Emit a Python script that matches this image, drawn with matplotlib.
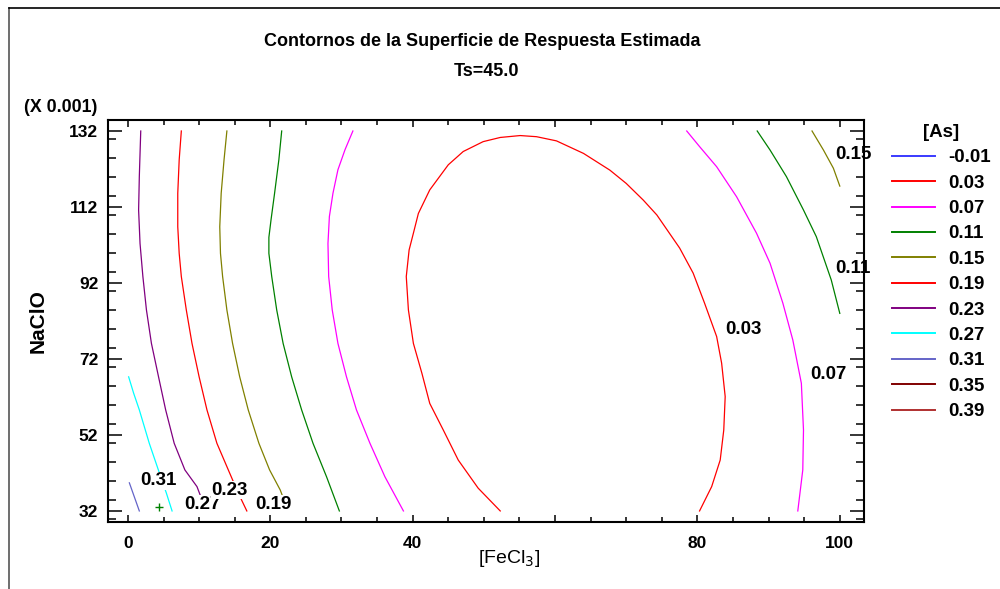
import matplotlib
matplotlib.use("Agg")
import matplotlib.pyplot as plt
from matplotlib import font_manager
from matplotlib.lines import Line2D
from matplotlib.ticker import MultipleLocator, FixedLocator

# fonts: Statgraphics uses Arial Narrow bold, fall back to Liberation Sans
names = {f.name for f in font_manager.fontManager.ttflist}
narrow = 'Liberation Sans Narrow' if 'Liberation Sans Narrow' in names else 'Liberation Sans'
plt.rcParams['font.family'] = ['Liberation Sans', 'DejaVu Sans']

# --- data ---
levels = [-0.01, 0.03, 0.07, 0.11, 0.15, 0.19, 0.23, 0.27, 0.31, 0.35, 0.39]
level_colors = ['#3a3aff', '#ff0000', '#ff00ff', '#008000', '#808000', '#ff0000',
                '#800080', '#00ffff', '#6464c8', '#800000', '#b03030']

c031_x = [0.2, 1.6]
c031_y = [39.4, 32.0]

c027_x = [0.1, 0.8, 1.6, 2.3, 3.0, 3.8, 4.6, 5.4, 6.2]
c027_y = [67.3, 63.0, 58.6, 54.2, 49.8, 45.4, 41.0, 36.7, 32.0]

c023_x = [1.8, 1.6, 1.5, 1.7, 2.1, 2.6, 3.3, 4.3, 5.3, 6.5, 8.0, 9.7, 11.0]
c023_y = [132.0, 120.0, 111.2, 102.4, 93.7, 84.9, 76.1, 67.3, 58.6, 49.8, 42.8, 38.4, 32.0]

c019_x = [7.5, 7.2, 7.0, 7.0, 7.2, 7.5, 8.2, 9.0, 10.0, 11.1, 12.5, 14.1, 15.5, 16.7]
c019_y = [132.0, 124.4, 115.6, 106.8, 99.8, 93.7, 84.9, 76.1, 67.3, 58.6, 49.8, 42.8, 36.7, 32.0]

c015_x = [13.9, 13.5, 13.1, 12.9, 13.0, 13.3, 13.9, 14.7, 15.7, 16.9, 18.4, 19.9, 21.4, 22.5]
c015_y = [132.0, 124.4, 115.6, 106.8, 99.8, 93.7, 84.9, 76.1, 67.3, 58.6, 49.8, 42.8, 37.5, 32.0]

c015r_x = [96.1, 97.7, 99.1, 100.0]
c015r_y = [132.0, 127.0, 122.2, 117.5]

c011_x = [21.6, 21.2, 20.6, 20.1, 19.8, 19.8, 20.2, 20.9, 21.8, 23.0, 24.4, 26.0, 27.9, 29.7]
c011_y = [132.0, 124.4, 115.6, 108.6, 104.0, 99.8, 93.7, 84.9, 76.1, 67.3, 58.6, 49.8, 41.0, 32.0]

c011r_x = [88.4, 90.2, 92.5, 94.9, 96.7, 98.8, 100.0]
c011r_y = [132.0, 127.0, 120.0, 111.2, 104.2, 92.8, 84.0]

c007_x = [31.6, 30.5, 29.5, 28.8, 28.3, 28.1, 28.2, 28.7, 29.5, 30.7, 32.1, 34.0, 36.1, 38.7]
c007_y = [132.0, 127.1, 121.8, 115.6, 109.5, 102.4, 93.7, 84.9, 76.1, 67.3, 58.6, 49.8, 41.0, 32.0]

c007r_x = [78.5, 80.3, 82.7, 85.5, 88.3, 90.2, 92.0, 93.4, 94.6, 94.9, 94.8, 94.1]
c007r_y = [132.0, 127.9, 122.6, 114.7, 105.1, 97.2, 86.7, 77.0, 65.6, 53.3, 42.8, 32.0]

c003_x = [52.3, 49.2, 46.4, 44.3, 42.4, 41.3, 40.1, 39.4, 39.1, 39.5, 40.1, 40.8, 42.4,
          45.0, 47.1, 49.9, 52.3, 55.1, 57.4, 60.2, 64.0, 67.7, 70.0, 72.4, 74.3, 77.5,
          79.4, 81.0, 82.7, 83.4, 83.9, 83.7, 83.2, 82.0, 80.3]
c003_y = [32.0, 38.0, 45.4, 53.3, 60.3, 68.2, 76.1, 84.9, 93.7, 100.7, 105.1, 110.3, 116.5,
          123.1, 126.6, 129.2, 130.3, 130.8, 130.5, 129.4, 126.1, 121.7, 118.2, 113.8, 109.9, 101.2,
          94.6, 86.7, 77.9, 70.9, 62.1, 53.3, 45.4, 38.4, 32.0]

# which polylines belong to which level
contours = {
    0.03: [(c003_x, c003_y)],
    0.07: [(c007_x, c007_y), (c007r_x, c007r_y)],
    0.11: [(c011_x, c011_y), (c011r_x, c011r_y)],
    0.15: [(c015_x, c015_y), (c015r_x, c015r_y)],
    0.19: [(c019_x, c019_y)],
    0.23: [(c023_x, c023_y)],
    0.27: [(c027_x, c027_y)],
    0.31: [(c031_x, c031_y)],
}

label_text = ['0.31', '0.27', '0.23', '0.19', '0.03', '0.07', '0.11', '0.15']
label_x = [4.3, 10.4, 14.3, 20.4, 86.4, 98.4, 101.9, 101.9]
label_y = [39.9, 33.8, 37.5, 33.8, 79.8, 67.8, 95.9, 125.7]

design_x = [4.3]
design_y = [33.1]

x_ticks = [0, 20, 40, 60, 80, 100]
x_ticklabels = ['0', '20', '40', '', '80', '100']
y_ticks = [32, 52, 72, 92, 112, 132]

# sizes depend on whether the narrow face exists
if narrow == 'Liberation Sans':
    fs_title, fs_tick, fs_lab, fs_leg, fs_mult = 13.0, 12.5, 13.5, 13.5, 12.8
else:
    fs_title, fs_tick, fs_lab, fs_leg, fs_mult = 15.3, 13.5, 15.0, 15.0, 14.0

# --- figure ---
fig = plt.figure(figsize=(10, 5.89), dpi=100)
ax = fig.add_axes([0.108, 0.1138, 0.756, 0.6825])

handles = []
for lev, col in zip(levels, level_colors):
    for xs, ys in contours.get(lev, []):
        ax.plot(xs, ys, color=col, lw=0.9, zorder=1.5)
    handles.append(Line2D([], [], color=col, lw=1.4))

ax.plot(design_x, design_y, '+', color='#008000', ms=6, mew=1.0, zorder=1.6)

for t, x, y in zip(label_text, label_x, label_y):
    ax.text(x, y, t, ha='center', va='center', fontsize=fs_lab, fontweight='bold',
            family=narrow, zorder=2, clip_on=False,
            bbox=dict(fc='white', ec='none', pad=0.3))

ax.set_xlim(-2.8, 103.4)
ax.set_ylim(29.1, 134.9)

ax.xaxis.set_major_locator(FixedLocator(x_ticks))
ax.set_xticklabels(x_ticklabels)
ax.xaxis.set_minor_locator(MultipleLocator(5))
ax.yaxis.set_major_locator(FixedLocator(y_ticks))
ax.yaxis.set_minor_locator(MultipleLocator(5))

ax.tick_params(axis='both', which='both', direction='in', top=True, right=True,
               width=1.1, color='black')
ax.tick_params(axis='x', which='major', length=5, pad=10)
ax.tick_params(axis='x', which='minor', length=3.5)
ax.tick_params(axis='y', which='major', length=10, pad=7)
ax.tick_params(axis='y', which='minor', length=6)
for lab in ax.get_xticklabels() + ax.get_yticklabels():
    lab.set_fontsize(fs_tick)
    lab.set_fontweight('bold')
    lab.set_family(narrow)
for sp in ax.spines.values():
    sp.set_linewidth(1.5)

ax.set_xlabel('[FeCl$_3$]', fontsize=14)
ax.xaxis.set_label_coords(0.530, -0.064)
ax.set_ylabel('NaClO', fontsize=15, fontweight='bold')
ax.yaxis.set_label_coords(-0.08, 0.5)

fig.text(0.4825, 0.929, 'Contornos de la Superficie de Respuesta Estimada', ha='center',
         va='center', fontsize=fs_title, fontweight='bold', family=narrow)
fig.text(0.486, 0.879, 'Ts=45.0', ha='center', va='center', fontsize=fs_title,
         fontweight='bold', family=narrow)
fig.text(0.097, 1 - 107 / 589, '(X 0.001)', ha='right', va='center', fontsize=fs_mult,
         fontweight='bold', family=narrow)

leg_px = fs_leg * 100 / 72
fig.legend(handles, [f'{v:.2f}' for v in levels], title='[As]',
           loc='upper left', bbox_to_anchor=(0.892, 1 - 124 / 589),
           frameon=False, handlelength=43 / leg_px, handletextpad=13 / leg_px,
           labelspacing=0.44, borderaxespad=0, borderpad=0,
           prop=dict(family=narrow, weight='bold', size=fs_leg),
           title_fontproperties=dict(family=narrow, weight='bold', size=fs_leg))

# outer frame of the Statgraphics pane
fig.add_artist(Line2D([0.009, 0.009], [0.0, 1 - 8 / 589], transform=fig.transFigure,
                      color='#555555', lw=1.2))
fig.add_artist(Line2D([0.009, 1.0], [1 - 8 / 589, 1 - 8 / 589], transform=fig.transFigure,
                      color='black', lw=1.2))

fig.savefig('out.png', dpi=100)
